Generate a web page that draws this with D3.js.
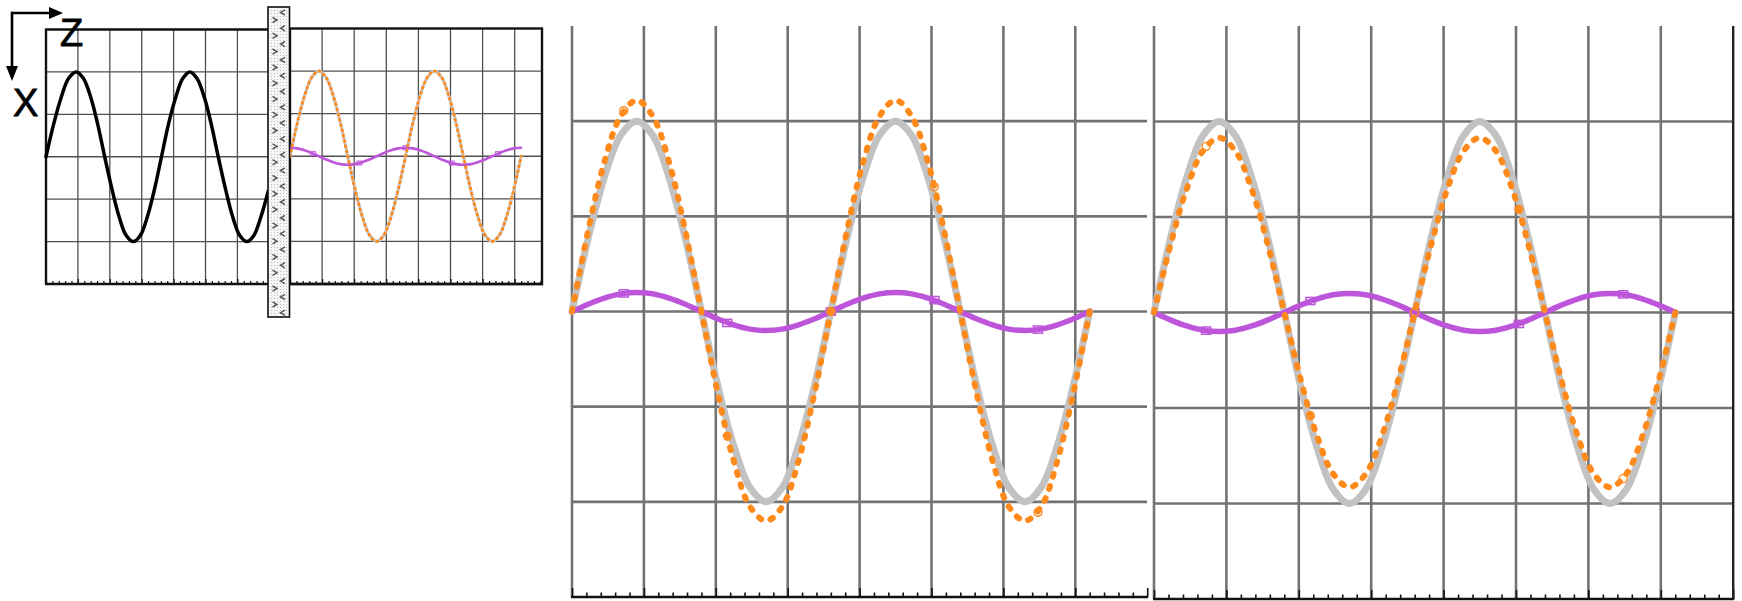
<!DOCTYPE html>
<html><head><meta charset="utf-8">
<script src="https://cdn.jsdelivr.net/npm/d3@7"></script>
<style>html,body{margin:0;padding:0;background:#fff;overflow:hidden}</style>
</head><body><svg id="c" width="1742" height="601"></svg>
<script>
// ---- data (x in grid divisions, values in grid divisions) ----
const xs = [0,0.225,0.45,0.675,0.9,1.125,1.35,1.575,1.8,2.025,2.25,2.475,2.7,2.925,3.15,3.375,3.6,3.825,4.05,4.275,4.5,4.725,4.95,5.175,5.4,5.625,5.85,6.075,6.3,6.525,6.75,6.975,7.2];
const grayVals = [0,0.77,1.41,1.85,2,1.85,1.41,0.77,0,-0.77,-1.41,-1.85,-2,-1.85,-1.41,-0.77,0,0.77,1.41,1.85,2,1.85,1.41,0.77,0,-0.77,-1.41,-1.85,-2,-1.85,-1.41,-0.77,0];
const orangeInset = [0,0.77,1.41,1.85,2,1.85,1.41,0.77,0,-0.77,-1.41,-1.85,-2,-1.85,-1.41,-0.77,0,0.77,1.41,1.85,2,1.85,1.41,0.77,0,-0.77,-1.41,-1.85,-2,-1.85,-1.41,-0.77,0];
const orangeMid = [0,0.85,1.57,2.05,2.22,2.05,1.57,0.85,0,-0.85,-1.57,-2.05,-2.2,-2.05,-1.57,-0.85,0,0.85,1.57,2.05,2.22,2.05,1.57,0.85,0,-0.85,-1.57,-2.05,-2.2,-2.05,-1.57,-0.85,0];
const orangeRight = [0,0.70,1.29,1.69,1.83,1.69,1.29,0.70,0,-0.70,-1.29,-1.69,-1.83,-1.69,-1.29,-0.70,0,0.70,1.29,1.69,1.83,1.69,1.29,0.70,0,-0.70,-1.29,-1.69,-1.83,-1.69,-1.29,-0.70,0];
const purpleInset = [0.2,0.185,0.141,0.077,0,-0.077,-0.141,-0.185,-0.2,-0.185,-0.141,-0.077,0,0.077,0.141,0.185,0.2,0.185,0.141,0.077,0,-0.077,-0.141,-0.185,-0.2,-0.185,-0.141,-0.077,0,0.077,0.141,0.185,0.2];
const purpleMid = [0,0.077,0.141,0.185,0.2,0.185,0.141,0.077,0,-0.077,-0.141,-0.185,-0.2,-0.185,-0.141,-0.077,0,0.077,0.141,0.185,0.2,0.185,0.141,0.077,0,-0.077,-0.141,-0.185,-0.2,-0.185,-0.141,-0.077,0];
const purpleRight = [0,-0.077,-0.141,-0.185,-0.2,-0.185,-0.141,-0.077,0,0.077,0.141,0.185,0.2,0.185,0.141,0.077,0,-0.077,-0.141,-0.185,-0.2,-0.185,-0.141,-0.077,0,0.077,0.141,0.185,0.2,0.185,0.141,0.077,0];
const blackX = [0,0.24,0.48,0.71,0.95,1.17,1.40,1.62,1.84,2.07,2.29,2.51,2.74,2.96,3.18,3.40,3.62,3.84,4.07,4.29,4.51,4.73,4.96,5.18,5.40,5.63,5.85,6.07,6.30,6.52,6.74,6.97];
const blackVals = [0,0.77,1.41,1.85,2,1.85,1.41,0.77,0,-0.77,-1.41,-1.85,-2,-1.85,-1.41,-0.77,0,0.77,1.41,1.85,2,1.85,1.41,0.77,0,-0.77,-1.41,-1.85,-2,-1.85,-1.41,-0.8];
const markerX = [0.72,2.16,3.6,5.04,6.48];
const purpleInsetMk = [0.06,-0.16,0.2,-0.16,0.06];
const purpleMidMk = [0.19,-0.12,0,0.12,-0.19];
const purpleRightMk = [-0.19,0.12,0,-0.12,0.19];
const orangeMidMk = [2.11,-1.31,0,1.31,-2.11];
const orangeRightMk = [1.74,-1.08,0,1.08,-1.74];
const axisLabels = ["Z", "X"];

const ORANGE = "#ff8a1c", PURPLE = "#bd55db", GRAY = "#c2c2c2";

const svg = d3.select('#c');
const defs = svg.append('defs');
const pat = defs.append('pattern').attr('id','stip').attr('width',3).attr('height',3).attr('patternUnits','userSpaceOnUse');
pat.append('rect').attr('width',3).attr('height',3).attr('fill','#f6f6f6');
pat.append('rect').attr('x',1).attr('y',1).attr('width',1).attr('height',1).attr('fill','#bdbdbd');

function panel(cfg) {
  const x = d3.scaleLinear().domain([0, 8]).range([cfg.x0, cfg.x0 + 8 * cfg.ux]);
  const y = d3.scaleLinear().domain([-3, 3]).range([cfg.bottom, cfg.top]);
  const g = svg.append('g');
  const gridV = d3.range(cfg.vStart, 8).filter(k => x(k) < cfg.right - 2);
  g.selectAll('.gv').data(gridV).join('line')
    .attr('x1', d => x(d)).attr('x2', d => x(d)).attr('y1', cfg.top).attr('y2', cfg.bottom)
    .attr('stroke', cfg.gridColor).attr('stroke-width', cfg.gridW);
  g.selectAll('.gh').data([-2,-1,0,1,2]).join('line')
    .attr('x1', cfg.x0).attr('x2', cfg.right).attr('y1', d => y(d)).attr('y2', d => y(d))
    .attr('stroke', cfg.gridColor).attr('stroke-width', cfg.gridW);
  const minor = d3.range(0, 40.5).map(i => i / 5).filter(v => x(v) <= cfg.right + 0.5 && Math.abs(v - Math.round(v)) > 1e-6);
  const major = d3.range(0, 9).filter(v => x(v) <= cfg.right + 0.5);
  const axG = g.append('g').attr('transform', `translate(0,${cfg.bottom})`);
  axG.call(d3.axisTop(x).tickValues(minor).tickSize(cfg.minorT).tickSizeOuter(0).tickFormat(''));
  axG.append('g').call(d3.axisTop(x).tickValues(major).tickSize(cfg.majorT).tickSizeOuter(0).tickFormat(''));
  axG.selectAll('path.domain').remove();
  axG.selectAll('line').attr('stroke', '#111').attr('stroke-width', cfg.tickW);
  axG.append('line').attr('x1', cfg.x0 - 1).attr('x2', cfg.right + 1).attr('y1', 0).attr('y2', 0)
    .attr('stroke', '#111').attr('stroke-width', cfg.axisW);
  return {x, y, g};
}

function curve(p, xv, yv, stroke, width, dash) {
  const line = d3.line().x(d => p.x(d[0])).y(d => p.y(d[1])).curve(d3.curveCatmullRom.alpha(0.5));
  const path = p.g.append('path').datum(xv.map((v, i) => [v, yv[i]])).attr('d', line)
    .attr('fill', 'none').attr('stroke', stroke).attr('stroke-width', width)
    .attr('stroke-linecap', 'round').attr('stroke-linejoin', 'round');
  if (dash) path.attr('stroke-dasharray', dash);
  return path;
}
function squares(p, vals, size, sw) {
  p.g.selectAll(null).data(markerX.map((v, i) => [v, vals[i]])).join('rect')
    .attr('x', d => p.x(d[0]) - size / 2).attr('y', d => p.y(d[1]) - size * 0.4)
    .attr('width', size).attr('height', size * 0.8)
    .attr('fill', 'none').attr('stroke', PURPLE).attr('stroke-width', sw);
}
function circles(p, vals, r, sw) {
  p.g.selectAll(null).data(markerX.map((v, i) => [v, vals[i]])).join('circle')
    .attr('cx', d => p.x(d[0])).attr('cy', d => p.y(d[1])).attr('r', r)
    .attr('fill', 'none').attr('stroke', ORANGE).attr('stroke-width', sw);
}

// ---- panel 1 (input field) ----
const p1 = panel({x0: 46, ux: 31.9, top: 29.5, bottom: 284, right: 280, vStart: 1,
  gridColor: '#505050', gridW: 1.3, minorT: 3, majorT: 5, tickW: 1.2, axisW: 2.4});
p1.g.append('path').attr('d', `M280,29.5 H46 V284`).attr('fill', 'none').attr('stroke', '#111').attr('stroke-width', 2.4);
curve(p1, blackX, blackVals, '#000', 3.5, null);

// ---- panel 2 (output field, small) ----
const p2 = panel({x0: 290, ux: 32.1, top: 28.5, bottom: 284, right: 542, vStart: 1,
  gridColor: '#505050', gridW: 1.3, minorT: 3, majorT: 5, tickW: 1.2, axisW: 2.4});
p2.g.append('rect').attr('x', 290).attr('y', 28.5).attr('width', 252).attr('height', 255.5)
  .attr('fill', 'none').attr('stroke', '#111').attr('stroke-width', 2.4);
curve(p2, xs, grayVals, '#c8c8c8', 3.2, null);
curve(p2, xs, purpleInset, PURPLE, 2.6, null);
squares(p2, purpleInsetMk, 5, 1);
curve(p2, xs, orangeInset, ORANGE, 2.8, '1.2,4.2');

// ---- grating strip ----
const strip = svg.append('g');
strip.append('rect').attr('x', 268).attr('y', 7).attr('width', 21.5).attr('height', 310)
  .attr('fill', 'url(#stip)').attr('stroke', '#111').attr('stroke-width', 1.6);
const rowsR = d3.range(0, 19).map(k => 20 + k * 15.8).filter(v => v < 314);
const rowsL = d3.range(0, 20).map(k => 12.5 + k * 15.8).filter(v => v < 314);
strip.selectAll('.cr').data(rowsR).join('path')
  .attr('d', d => `M272.5,${d - 2.6} L277,${d} L272.5,${d + 2.6}`)
  .attr('fill', 'none').attr('stroke', '#5a5a5a').attr('stroke-width', 1.5);
strip.selectAll('.cl').data(rowsL).join('path')
  .attr('d', d => `M285,${d - 2.6} L280.5,${d} L285,${d + 2.6}`)
  .attr('fill', 'none').attr('stroke', '#5a5a5a').attr('stroke-width', 1.5);

// ---- big middle panel ----
const pm = panel({x0: 572, ux: 71.9, top: 26, bottom: 597, right: 1147, vStart: 0,
  gridColor: '#737373', gridW: 2.6, minorT: 4.5, majorT: 9, tickW: 1.6, axisW: 2.4});
curve(pm, xs, grayVals, GRAY, 7, null);
curve(pm, xs, purpleMid, PURPLE, 5.5, null);
squares(pm, purpleMidMk, 9, 1.5);
curve(pm, xs, orangeMid, ORANGE, 6, '2.8,10');
circles(pm, orangeMidMk, 4, 1.4);

// ---- big right panel ----
const pr = panel({x0: 1154, ux: 72.4, top: 26, bottom: 599, right: 1733.2, vStart: 0,
  gridColor: '#737373', gridW: 2.6, minorT: 4.5, majorT: 9, tickW: 1.6, axisW: 2.4});
pr.g.append('line').attr('x1', pr.x(8)).attr('x2', pr.x(8)).attr('y1', 26).attr('y2', 599)
  .attr('stroke', '#222').attr('stroke-width', 2.4);
curve(pr, xs, grayVals, GRAY, 7, null);
curve(pr, xs, purpleRight, PURPLE, 5.5, null);
squares(pr, purpleRightMk, 9, 1.5);
curve(pr, xs, orangeRight, ORANGE, 6, '2.8,10');
circles(pr, orangeRightMk, 4, 1.4);

// ---- orientation arrows and labels ----
const ax = svg.append('g');
ax.append('line').attr('x1', 12).attr('y1', 13).attr('x2', 52).attr('y2', 13).attr('stroke', '#000').attr('stroke-width', 2.6);
ax.append('path').attr('d', 'M63,13 L49,7 L49,19 Z').attr('fill', '#000');
ax.append('line').attr('x1', 12).attr('y1', 11.7).attr('x2', 12).attr('y2', 68).attr('stroke', '#000').attr('stroke-width', 2.6);
ax.append('path').attr('d', 'M12,81 L6,66 L18,66 Z').attr('fill', '#000');
ax.append('text').attr('x', 60).attr('y', 46).text(axisLabels[0])
  .attr('font-family', 'Liberation Sans, Arial, sans-serif').attr('font-size', 38)
  .attr('fill', '#000').attr('stroke', '#000').attr('stroke-width', 0.8);
ax.append('text').attr('x', 13).attr('y', 116).text(axisLabels[1])
  .attr('font-family', 'Liberation Sans, Arial, sans-serif').attr('font-size', 38)
  .attr('fill', '#000').attr('stroke', '#000').attr('stroke-width', 0.8);
</script>
</body></html>
